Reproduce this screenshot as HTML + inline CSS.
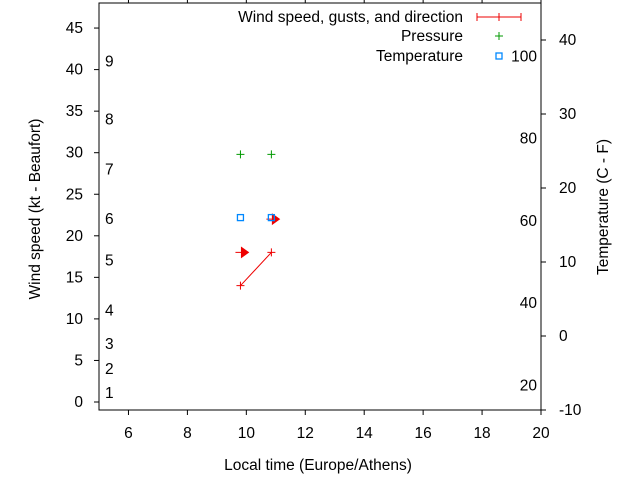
<!DOCTYPE html>
<html><head><meta charset="utf-8"><style>
body{margin:0;background:#fff}
svg{display:block;font-family:"Liberation Sans",sans-serif;font-size:15.5px}
</style></head><body>
<svg id="c" width="640" height="480"></svg>
<script>
const xTicks=[6,8,10,12,14,16,18,20];
const yTicks=[0,5,10,15,20,25,30,35,40,45];
const y2Ticks=[-10,0,10,20,30,40];
const fLabels=[20,40,60,80,100];
const bftLabels=[[1,1.1],[2,4],[3,7],[4,11],[5,17],[6,22],[7,28],[8,34],[9,41]];
const windTimes=[9.8,10.85];
const windSpeed=[14,18];
const gustSpeed=[18,22];
const pressTimes=[9.8,10.85];
const pressVals=[29.8,29.8];
const tempTimes=[9.8,10.85];
const tempVals=[16,16];
const L=99,R=541,T=3,B=410;
const X=v=>L+(v-5)*(R-L)/15;
const Y=v=>402-v*8.31;
const Y2=v=>B-(v+10)*7.4;
const s=document.getElementById('c');const NS='http://www.w3.org/2000/svg';
function el(t,a,txt){const e=document.createElementNS(NS,t);for(const k in a)e.setAttribute(k,a[k]);if(txt!==undefined)e.textContent=txt;s.appendChild(e);return e;}
let e;
e=el('rect',{x:L,y:T,width:R-L,height:B-T,fill:'none',stroke:'#000'});


xTicks.forEach(v=>{const x=X(v);
e=el('line',{x1:x,x2:x,y1:B,y2:B+5,stroke:'#000'});


e=el('line',{x1:x,x2:x,y1:T,y2:T-5,stroke:'#000'});


e=el('text',{x:x,y:B+28,'text-anchor':'middle'},v);

});
yTicks.forEach(v=>{const y=Y(v);
e=el('line',{x1:L,x2:L-5,y1:y,y2:y,stroke:'#000'});


e=el('text',{x:L-16,y:y+5,'text-anchor':'end'},v);

});
y2Ticks.forEach(v=>{const y=Y2(v);
e=el('line',{x1:R,x2:R+5,y1:y,y2:y,stroke:'#000'});


e=el('text',{x:R+18,y:y+5},v);

});
fLabels.forEach(f=>{const c=(f-32)*5/9;
e=el('text',{x:537,y:Y2(c)+5,'text-anchor':'end'},f);

});
bftLabels.forEach(b=>{
e=el('text',{x:105,y:Y(b[1])+5},b[0]);

});
e=el('text',{x:318,y:470,'text-anchor':'middle'},'Local time (Europe/Athens)');


e=el('text',{x:40,y:209,'text-anchor':'middle',transform:'rotate(-90 40 209)'},'Wind speed (kt - Beaufort)');


e=el('text',{x:608,y:207,'text-anchor':'middle',transform:'rotate(-90 608 207)'},'Temperature (C - F)');


function plus(x,y,c,n){e=el('path',{d:`M${x-4} ${y}h8M${x} ${y-4}v8`,stroke:c,fill:'none'});

}
let d='';windTimes.forEach((t,i)=>{d+=(i?'L':'M')+X(t)+' '+Y(windSpeed[i]);});
e=el('path',{d:d,stroke:'#e00',fill:'none'});


windTimes.forEach((t,i)=>plus(X(t),Y(windSpeed[i]),'#e00','wind-point'));
gustSpeed.forEach((g,i)=>{const x=X(windTimes[i]),y=Y(g);
e=el('path',{d:`M${x-5} ${y}h8M${x+1} ${y-5}l7 5l-7 5z`,stroke:'#e00',fill:'#e00'});

});
pressTimes.forEach((t,i)=>plus(X(t),Y(pressVals[i]),'#090','pressure-point'));
tempTimes.forEach((t,i)=>{e=el('rect',{x:X(t)-3,y:Y2(tempVals[i])-3,width:6,height:6,fill:'none',stroke:'#08f','stroke-width':1.3});

});
e=el('text',{x:463,y:22,'text-anchor':'end'},'Wind speed, gusts, and direction');


e=el('path',{d:'M477 17h44M477 13v8M499 13v8M521 13v8',stroke:'#e00',fill:'none'});


e=el('text',{x:463,y:41,'text-anchor':'end'},'Pressure');


plus(499,36,'#090','legend-pressure-swatch');
e=el('text',{x:463,y:61,'text-anchor':'end'},'Temperature');


e=el('rect',{x:496,y:53,width:6,height:6,fill:'none',stroke:'#08f','stroke-width':1.3});


</script>
</body></html>
